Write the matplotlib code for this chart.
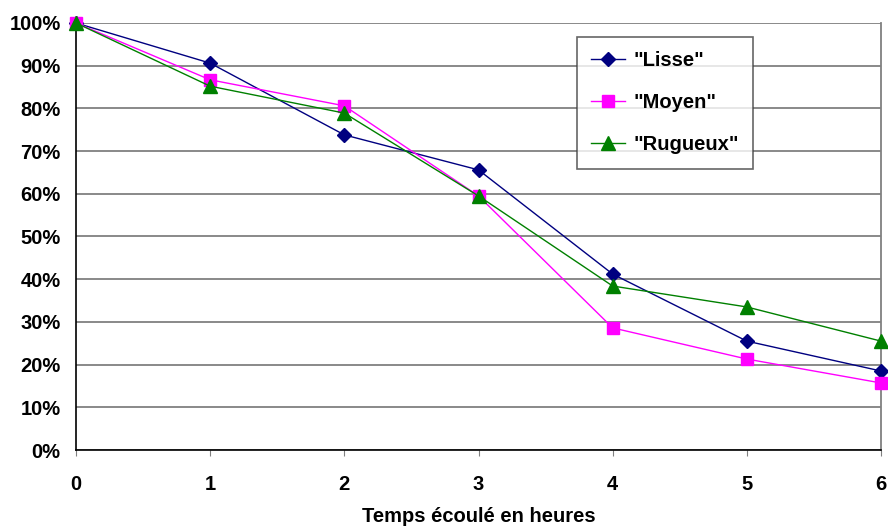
import numpy as np
import matplotlib.pyplot as plt

plt.rcParams['font.family'] = ['Liberation Sans', 'DejaVu Sans']
plt.rcParams['font.weight'] = 'bold'

hours = [0, 1, 2, 3, 4, 5, 6]
lisse = [100, 90.6, 73.8, 65.6, 41.2, 25.5, 18.5]
moyen = [100, 86.7, 80.6, 59.5, 28.6, 21.3, 15.7]
rugueux = [100, 85.2, 78.9, 59.5, 38.4, 33.5, 25.5]

fig = plt.figure(figsize=(8.88, 5.27), dpi=100)
ax = fig.add_axes([76/888, 1-450/527, (881-76)/888, (450-23)/527])

ax.plot(hours, lisse, color='#000080', lw=1, marker='D', ms=7.5, label='"Lisse"', clip_on=False, zorder=3)
ax.plot(hours, moyen, color='#FF00FF', lw=1, marker='s', ms=8, label='"Moyen"', clip_on=False, zorder=3)
ax.plot(hours, rugueux, color='#008000', lw=1, marker='^', ms=9.5, label='"Rugueux"', clip_on=False, zorder=3)

ax.set_xlim(0, 6)
ax.set_ylim(0, 100)
ax.set_xticks(hours)
ax.set_yticks(np.arange(0, 101, 10))
ax.set_yticklabels(['%d%%' % v for v in range(0, 101, 10)])
ax.yaxis.grid(True, color='#808080', lw=1.3)
ax.set_axisbelow(True)
ax.spines['top'].set_visible(False)
ax.spines['right'].set_color('#808080')
ax.spines['right'].set_linewidth(1.3)
ax.spines['left'].set_linewidth(1.2)
ax.spines['bottom'].set_linewidth(1.2)
ax.tick_params(axis='y', length=0, pad=11, labelsize=14.5)
ax.tick_params(axis='x', length=4, color='#808080', pad=14, labelsize=14.5)
ax.set_xlabel('Temps écoulé en heures', fontsize=14.5, fontweight='bold', labelpad=9)

leg = ax.legend(loc='upper left', bbox_to_anchor=((577-76)/805, 1-(37-23)/427),
                fontsize=14.5, frameon=True, fancybox=False, edgecolor='#404040',
                handlelength=1.7, handletextpad=0.4, labelspacing=1.15, borderpad=0.7,
                borderaxespad=0)
leg.get_frame().set_linewidth(1.2)

fig.savefig('out.png', dpi=100)
